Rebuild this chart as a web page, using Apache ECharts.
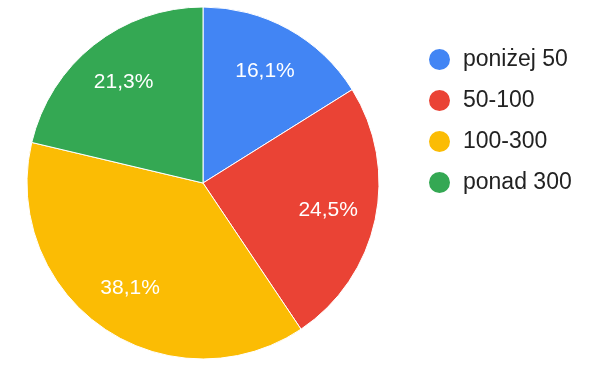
<!DOCTYPE html>
<html><head><meta charset="utf-8">
<script src="https://cdn.jsdelivr.net/npm/echarts@6/dist/echarts.min.js"></script>
<style>html,body{margin:0;padding:0;background:#fff}#c{width:604px;height:370px}</style>
</head><body><div id="c"></div>
<script>
const categories = ['poniżej 50', '50-100', '100-300', 'ponad 300'];
const values = [16.1, 24.5, 38.1, 21.3];
const colors = ['#4285F4', '#EA4335', '#FBBC04', '#34A853'];

const data = categories.map((n, i) => ({ name: n, value: values[i], itemStyle: { color: colors[i] } }));
const fmt = p => p.value.toFixed(1).replace('.', ',') + '%';

const chart = echarts.init(document.getElementById('c'), null, { renderer: 'canvas' });
chart.setOption({
  animation: false,
  legend: {
    orient: 'vertical',
    left: 427,
    top: 47,
    padding: 0,
    icon: 'circle',
    itemWidth: 23,
    itemHeight: 23,
    itemGap: 16,
    data: categories,
    textStyle: { fontFamily: 'Liberation Sans, Arial, sans-serif', fontSize: 23, lineHeight: 23, color: '#222', padding: [0, 0, 0, 7] }
  },
  series: [
    {
      type: 'pie',
      center: [203, 183],
      radius: [0, 176],
      startAngle: 90,
      clockwise: true,
      data: data,
      itemStyle: { borderColor: '#fff', borderWidth: 1 },
      label: { show: false },
      labelLine: { show: false },
      emphasis: { disabled: true }
    },
    {
      type: 'pie',
      center: [203, 183],
      radius: [100, 150],
      startAngle: 90,
      clockwise: true,
      silent: true,
      data: data.map(d => ({ name: d.name, value: d.value, itemStyle: { color: 'rgba(0,0,0,0)' } })),
      label: { show: true, position: 'inside', formatter: fmt, color: '#fff', fontSize: 21, fontFamily: 'Liberation Sans, Arial, sans-serif' },
      labelLine: { show: false },
      emphasis: { disabled: true },
      legendHoverLink: false
    }
  ]
});
</script></body></html>
